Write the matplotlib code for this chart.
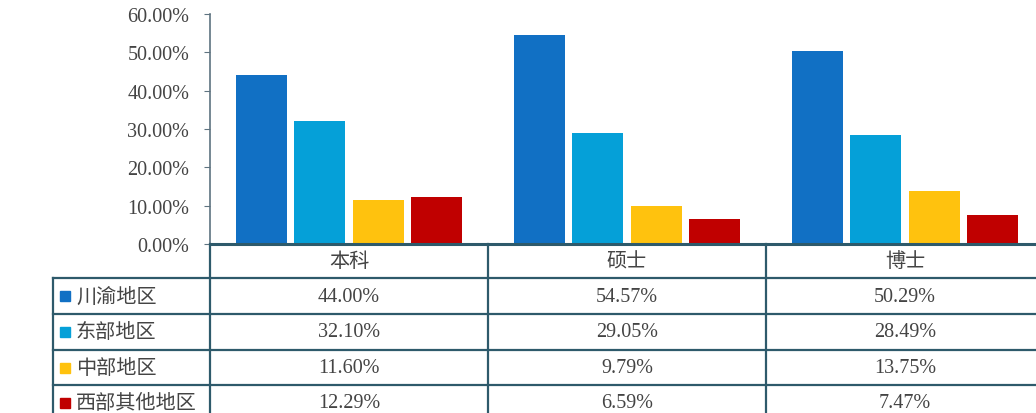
import matplotlib
matplotlib.use("Agg")
import matplotlib.pyplot as plt
import numpy as np
from matplotlib.ticker import PercentFormatter

# data
categories = ["本科", "硕士", "博士"]
regions = ["川渝地区", "东部地区", "中部地区", "西部其他地区"]
chuanyu = [44.00, 54.57, 50.29]
dongbu = [32.10, 29.05, 28.49]
zhongbu = [11.60, 9.79, 13.75]
xibu = [12.29, 6.59, 7.47]
series = [chuanyu, dongbu, zhongbu, xibu]
colors = ["#1170C4", "#05A0D8", "#FFC20E", "#C00000"]

W, H = 1036, 414
LINE = "#2E5A6B"
TXT = "#444444"
NUM_FONT = ["Liberation Serif", "Noto Sans CJK SC"]
CJK_FONT = ["Noto Sans CJK SC", "DejaVu Sans"]

fig = plt.figure(figsize=(W / 100, H / 100), dpi=100)

# plot area in pixels (top-left origin)
ax_left, ax_top, ax_bottom = 210, 15, 245
col_w = 278
ax = fig.add_axes([ax_left / W, (H - ax_bottom) / H, 3 * col_w / W, (ax_bottom - ax_top) / H])

x = np.arange(len(categories))
bar_w = 0.183
step = 0.21
for k, vals in enumerate(series):
    ax.bar(x + (k - 1.5) * step, np.array(vals) / 100, width=bar_w, color=colors[k])

ax.set_xlim(-0.5, 2.5)
ax.set_ylim(0, 0.6)
ax.set_yticks(np.arange(0, 0.61, 0.1))
ax.yaxis.set_major_formatter(PercentFormatter(1.0, decimals=2))
ax.set_xticks([])
for s in ["top", "right", "bottom"]:
    ax.spines[s].set_visible(False)
ax.spines["left"].set_color("#5E7380")
ax.spines["left"].set_linewidth(1.2)
ax.tick_params(axis="y", length=4, color="#5E7380", pad=11, labelsize=14.5, labelcolor=TXT)
for lab in ax.get_yticklabels():
    lab.set_family(NUM_FONT)


def fx(px):
    return px / W


def fy(py):
    return (H - py) / H


def hline(y, x0, x1, lw=1.6):
    fig.add_artist(plt.Line2D([fx(x0), fx(x1)], [fy(y), fy(y)], color=LINE, lw=lw))


def vline(xp, y0, y1, lw=1.6):
    fig.add_artist(plt.Line2D([fx(xp), fx(xp)], [fy(y0), fy(y1)], color=LINE, lw=lw))


# table
tab_left = 53
right_edge = ax_left + 3 * col_w
row_lines = [279, 315, 351, 386, 421]
hline(ax_bottom, ax_left, right_edge, lw=2.2)
for y in row_lines:
    hline(y, tab_left, right_edge)
vline(tab_left, row_lines[0], row_lines[-1])
for i in range(4):
    vline(ax_left + i * col_w, ax_bottom, row_lines[-1])

for i, cat in enumerate(categories):
    cx = ax_left + (i + 0.5) * col_w
    fig.text(fx(cx), fy((ax_bottom + row_lines[0]) / 2), cat, ha="center", va="center",
             fontsize=14.5, color=TXT, family=CJK_FONT)

for r, name in enumerate(regions):
    cy = (row_lines[r] + row_lines[r + 1]) / 2
    fig.patches.append(plt.Rectangle((fx(60), fy(cy + 5)), 10 / W, 10 / H,
                                     transform=fig.transFigure, color=colors[r]))
    fig.text(fx(76), fy(cy), name, ha="left", va="center", fontsize=14.5,
             color=TXT, family=CJK_FONT)
    for i in range(len(categories)):
        cx = ax_left + (i + 0.5) * col_w
        fig.text(fx(cx), fy(cy), f"{series[r][i]:.2f}%", ha="center", va="center",
                 fontsize=14.5, color=TXT, family=NUM_FONT)

fig.savefig("out.png", dpi=100)
